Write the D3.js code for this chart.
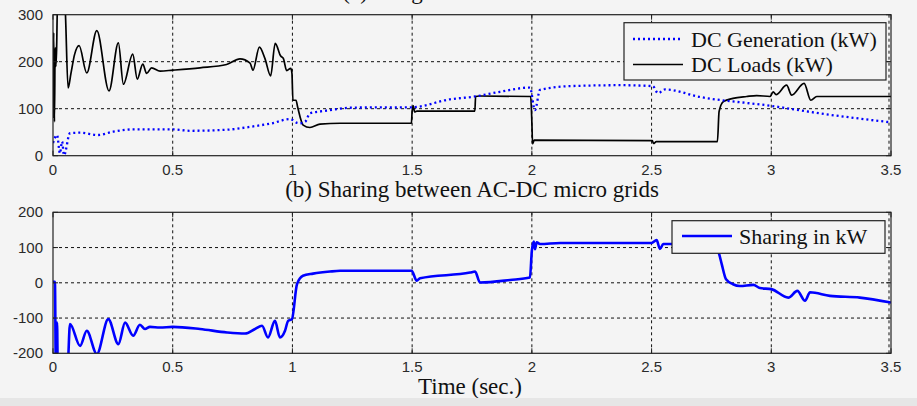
<!DOCTYPE html>
<html>
<head>
<meta charset="utf-8">
<script src="https://cdn.jsdelivr.net/npm/d3@7"></script>
<style>
  body { margin: 0; background: #f4f4f4; }
  svg { display: block; }
  .tick-label { font-family: "Liberation Sans", Arial, sans-serif; font-size: 15px; fill: #2a2a2a; }
  .serif { font-family: "Liberation Serif", "Times New Roman", serif; fill: #111; }
</style>
</head>
<body>
<svg id="chart" width="917" height="406"></svg>
<script>
// time axis ticks (shared)
const timeTicks = [0, 0.5, 1, 1.5, 2, 2.5, 3, 3.5];
const topTicks = [0, 100, 200, 300];
const bottomTicks = [-200, -100, 0, 100, 200];

// (a) DC generation, [time s, kW]
const dcGeneration = [
  [0, 27], [0.017, 44], [0.029, 5], [0.038, 30], [0.046, 1], [0.071, 48], [0.113, 49],
  [0.188, 44], [0.251, 51], [0.335, 56], [0.5, 56], [0.572, 53], [0.718, 55], [0.844, 63],
  [0.915, 69], [0.99, 78], [1.019, 70], [1.032, 69], [1.053, 72], [1.073, 90], [1.115, 94],
  [1.157, 97], [1.24, 102], [1.366, 103], [1.498, 103], [1.658, 120], [1.763, 126],
  [1.867, 136], [1.992, 145], [2.013, 97], [2.034, 140], [2.159, 148], [2.368, 150],
  [2.505, 148], [2.527, 133], [2.556, 141], [2.702, 125], [3.0, 106], [3.203, 90], [3.5, 71]
];

// (a) DC loads, [time s, kW]
const dcLoads = [
  [0, 80], [0.003, 262], [0.006, 72], [0.009, 230], [0.012, 190], [0.015, 225], [0.019, 330],
  [0.045, 330], [0.05, 320], [0.063, 144], [0.075, 175], [0.09, 215], [0.109, 234],
  [0.141, 176], [0.183, 266], [0.234, 138], [0.273, 240], [0.294, 152], [0.333, 216],
  [0.352, 163], [0.375, 195], [0.391, 175], [0.412, 187], [0.447, 180], [0.5, 182],
  [0.614, 187], [0.725, 194], [0.781, 206], [0.823, 197], [0.835, 182], [0.862, 231],
  [0.885, 207], [0.909, 170], [0.928, 239], [0.951, 212], [0.962, 207], [0.976, 181],
  [0.993, 186], [0.998, 175], [1.002, 118], [1.015, 118], [1.022, 103], [1.045, 65],
  [1.073, 60], [1.115, 67], [1.2, 69], [1.497, 69], [1.5, 95], [1.505, 106], [1.51, 93],
  [1.52, 95], [1.762, 95], [1.765, 126], [1.78, 127], [1.995, 126], [2.0, 72], [2.003, 25],
  [2.01, 33], [2.503, 32], [2.508, 26], [2.52, 30], [2.775, 30], [2.782, 94], [2.8, 115],
  [2.84, 122], [2.897, 126], [2.939, 128], [2.995, 126], [3.008, 136], [3.02, 130],
  [3.064, 150], [3.085, 129], [3.137, 154], [3.165, 118], [3.19, 126], [3.5, 126]
];

// (b) sharing between AC-DC micro grids, [time s, kW]
const sharing = [
  [0, 3], [0.008, 3], [0.012, -250], [0.017, -113], [0.02, -250], [0.06, -250], [0.071, -117],
  [0.113, -179], [0.141, -136], [0.183, -202], [0.231, -103], [0.273, -174], [0.301, -113],
  [0.335, -150], [0.363, -119], [0.384, -131], [0.405, -125], [0.447, -127], [0.5, -125],
  [0.614, -131], [0.727, -141], [0.802, -144], [0.844, -131], [0.873, -122], [0.898, -155],
  [0.927, -108], [0.948, -155], [0.969, -136], [0.982, -108], [0.998, -103], [1.019, -4],
  [1.044, 20], [1.086, 26], [1.157, 32], [1.199, 34], [1.498, 34], [1.519, 6], [1.533, 13],
  [1.742, 29], [1.763, 32], [1.783, 1], [1.909, 8], [1.992, 15], [2.0, 91], [2.008, 117],
  [2.013, 95], [2.02, 115], [2.034, 110], [2.118, 113], [2.5, 113], [2.521, 121],
  [2.535, 96], [2.549, 110], [2.577, 110], [2.76, 110], [2.782, 82], [2.793, 53],
  [2.811, 10], [2.84, -4], [2.869, -9], [2.925, -6], [2.953, -15], [3.0, -18], [3.071, -42],
  [3.109, -23], [3.141, -51], [3.162, -27], [3.245, -37], [3.37, -42], [3.5, -56]
];

const svg = d3.select("#chart");
const W = 917, H = 406;
const x0 = 53, x1 = 891;

svg.append("rect").attr("width", W).attr("height", H).attr("fill", "#f4f4f4");

const xScale = d3.scaleLinear().domain([0, 3.5]).range([x0, x1]);

function panel (id, yDomain, yRange, ticks) {
    const yScale = d3.scaleLinear().domain(yDomain).range(yRange);
    const g = svg.append("g").classed(id, true);
    const top = yRange[1], bottom = yRange[0];

    svg.append("clipPath").attr("id", "clip-" + id)
        .append("rect")
        .attr("x", x0).attr("y", top)
        .attr("width", x1 - x0).attr("height", bottom - top);

    // grid
    g.append("g").selectAll("line")
        .data(timeTicks.slice(1))
        .enter()
        .append("line")
        .attr("x1", d => xScale(d) - (d == 3.5 ? 2 : 0)).attr("x2", d => xScale(d) - (d == 3.5 ? 2 : 0))
        .attr("y1", top).attr("y2", bottom)
        .attr("stroke", "#111").attr("stroke-width", 1)
        .attr("stroke-dasharray", "3,3");
    g.append("g").selectAll("line")
        .data(ticks.slice(1, -1))
        .enter()
        .append("line")
        .attr("x1", x0).attr("x2", x1)
        .attr("y1", d => yScale(d)).attr("y2", d => yScale(d))
        .attr("stroke", "#111").attr("stroke-width", 1)
        .attr("stroke-dasharray", "3,3");

    // tick labels
    g.append("g").selectAll("text")
        .data(ticks)
        .enter()
        .append("text")
        .classed("tick-label", true)
        .attr("x", x0 - 10)
        .attr("y", d => yScale(d) + 5)
        .attr("text-anchor", "end")
        .text(d => d);
    g.append("g").selectAll("text")
        .data(timeTicks)
        .enter()
        .append("text")
        .classed("tick-label", true)
        .attr("x", d => xScale(d))
        .attr("y", bottom + 19)
        .attr("text-anchor", "middle")
        .text(d => d);

    return { g, yScale, top, bottom };
}

function frame (p, ticks) {
    const { g, yScale, top, bottom } = p;
    g.append("rect")
        .attr("x", x0).attr("y", top)
        .attr("width", x1 - x0).attr("height", bottom - top)
        .attr("fill", "none").attr("stroke", "#222").attr("stroke-width", 1.2);
    const tk = g.append("g").attr("stroke", "#222").attr("stroke-width", 1);
    timeTicks.forEach(d => {
        tk.append("line").attr("x1", xScale(d)).attr("x2", xScale(d)).attr("y1", bottom).attr("y2", bottom - 5);
        tk.append("line").attr("x1", xScale(d)).attr("x2", xScale(d)).attr("y1", top).attr("y2", top + 5);
    });
    ticks.forEach(d => {
        tk.append("line").attr("x1", x0).attr("x2", x0 + 5).attr("y1", yScale(d)).attr("y2", yScale(d));
        tk.append("line").attr("x1", x1).attr("x2", x1 - 5).attr("y1", yScale(d)).attr("y2", yScale(d));
    });
}

const line = y => d3.line().curve(d3.curveMonotoneX).x(d => xScale(d[0])).y(d => y(d[1]));

// ---- (a) top panel
const pa = panel("pa", [0, 300], [155.7, 14.7], topTicks);
pa.g.append("path")
    .datum(dcLoads)
    .attr("clip-path", "url(#clip-pa)")
    .attr("d", line(pa.yScale))
    .attr("fill", "none").attr("stroke", "#000").attr("stroke-width", 1.7)
    .attr("stroke-linejoin", "round");
pa.g.append("path")
    .datum(dcGeneration)
    .attr("clip-path", "url(#clip-pa)")
    .attr("d", line(pa.yScale))
    .attr("fill", "none").attr("stroke", "#0000ff").attr("stroke-width", 2.3)
    .attr("stroke-dasharray", "2,3");
frame(pa, topTicks);

// legend (a)
const la = svg.append("g");
la.append("rect").attr("x", 624).attr("y", 22.7).attr("width", 262).attr("height", 57.3)
    .attr("fill", "#f4f4f4").attr("stroke", "#222").attr("stroke-width", 1.2);
la.append("line").attr("x1", 633).attr("x2", 683).attr("y1", 39).attr("y2", 39)
    .attr("stroke", "#0000ff").attr("stroke-width", 2.3).attr("stroke-dasharray", "2,3");
la.append("line").attr("x1", 633).attr("x2", 683).attr("y1", 64.5).attr("y2", 64.5)
    .attr("stroke", "#000").attr("stroke-width", 1.6);
la.append("text").classed("serif", true).attr("x", 691).attr("y", 46.5)
    .attr("font-size", 22).text("DC Generation (kW)");
la.append("text").classed("serif", true).attr("x", 691).attr("y", 72)
    .attr("font-size", 22).text("DC Loads (kW)");

// ---- (b) bottom panel
const pb = panel("pb", [-200, 200], [353.3, 212.3], bottomTicks);
pb.g.append("path")
    .datum(sharing)
    .attr("clip-path", "url(#clip-pb)")
    .attr("d", line(pb.yScale))
    .attr("fill", "none").attr("stroke", "#0000ff").attr("stroke-width", 2.6)
    .attr("stroke-linejoin", "round");
frame(pb, bottomTicks);

const lb = svg.append("g");
lb.append("rect").attr("x", 672).attr("y", 220.7).attr("width", 213).attr("height", 32.6)
    .attr("fill", "#f4f4f4").attr("stroke", "#222").attr("stroke-width", 1.2);
lb.append("line").attr("x1", 682).attr("x2", 732).attr("y1", 236).attr("y2", 236)
    .attr("stroke", "#0000ff").attr("stroke-width", 2.6);
lb.append("text").classed("serif", true).attr("x", 739).attr("y", 244)
    .attr("font-size", 22).text("Sharing in kW");

// titles (the top one is cut by the picture edge, as in the source)
svg.append("text").classed("serif", true).attr("x", 472).attr("y", -1)
    .attr("text-anchor", "middle").attr("font-size", 23).text("(a) DC generation and loads");
svg.append("text").classed("serif", true).attr("x", 472).attr("y", 197)
    .attr("text-anchor", "middle").attr("font-size", 23).text("(b) Sharing between AC-DC micro grids");
svg.append("text").classed("serif", true).attr("x", 470).attr("y", 394)
    .attr("text-anchor", "middle").attr("font-size", 23).text("Time (sec.)");

// bottom band
svg.append("rect").attr("x", 0).attr("y", 398).attr("width", W).attr("height", H - 398)
    .attr("fill", "#e6e6e6");
</script>
</body>
</html>
